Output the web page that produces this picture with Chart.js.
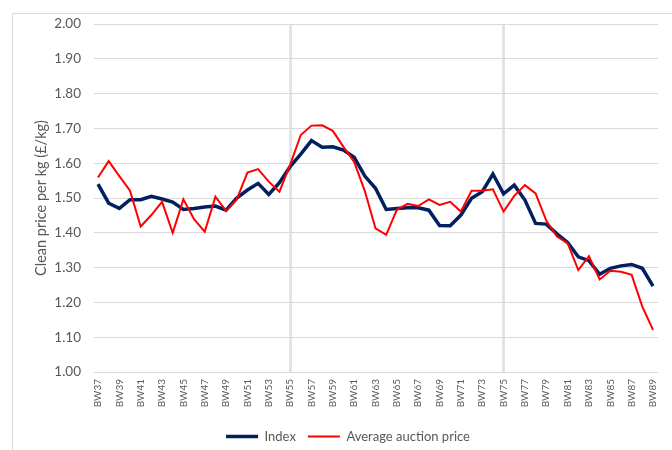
<!DOCTYPE html>
<html>
<head>
<meta charset="utf-8">
<script src="https://cdn.jsdelivr.net/npm/chart.js@4"></script>
<style>
    body { margin: 0; background: #fff; }
    #frame { position: absolute; left: 12px; top: 13px; width: 700px; height: 460px; border: 1px solid #d9d9d9; }
    #wrap { position: absolute; left: 0; top: 0; width: 672px; height: 450px; }
</style>
</head>
<body>
<div id="frame"></div>
<div id="wrap"><canvas id="priceChart" width="672" height="450"></canvas></div>
<script>
const weeks = ['BW37', 'BW38', 'BW39', 'BW40', 'BW41', 'BW42', 'BW43', 'BW44', 'BW45', 'BW46',
    'BW47', 'BW48', 'BW49', 'BW50', 'BW51', 'BW52', 'BW53', 'BW54', 'BW55', 'BW56',
    'BW57', 'BW58', 'BW59', 'BW60', 'BW61', 'BW62', 'BW63', 'BW64', 'BW65', 'BW66',
    'BW67', 'BW68', 'BW69', 'BW70', 'BW71', 'BW72', 'BW73', 'BW74', 'BW75', 'BW76',
    'BW77', 'BW78', 'BW79', 'BW80', 'BW81', 'BW82', 'BW83', 'BW84', 'BW85', 'BW86',
    'BW87', 'BW88', 'BW89'];

const indexValues = [1.54, 1.485, 1.47, 1.495, 1.495, 1.505, 1.497, 1.488, 1.467, 1.47,
    1.474, 1.477, 1.465, 1.50, 1.523, 1.542, 1.51, 1.544, 1.59, 1.626,
    1.665, 1.646, 1.647, 1.638, 1.617, 1.563, 1.528, 1.467, 1.47, 1.472,
    1.472, 1.465, 1.421, 1.42, 1.451, 1.499, 1.518, 1.569, 1.512, 1.537,
    1.494, 1.427, 1.425, 1.397, 1.372, 1.331, 1.32, 1.281, 1.298, 1.305,
    1.309, 1.298, 1.247];

const auctionValues = [1.559, 1.606, 1.563, 1.521, 1.418, 1.451, 1.489, 1.40, 1.496, 1.439,
    1.403, 1.504, 1.463, 1.496, 1.573, 1.583, 1.547, 1.518, 1.595, 1.681,
    1.708, 1.709, 1.693, 1.647, 1.604, 1.52, 1.413, 1.394, 1.466, 1.483,
    1.477, 1.496, 1.48, 1.489, 1.461, 1.521, 1.521, 1.525, 1.461, 1.506,
    1.537, 1.513, 1.435, 1.389, 1.37, 1.293, 1.333, 1.266, 1.291, 1.288,
    1.279, 1.188, 1.121];

// weeks where the season divider is drawn
const dividerWeeks = ['BW55', 'BW75'];

const textGrey = '#595959';
const gridGrey = '#d9d9d9';
const fontName = 'Lato, "Liberation Sans", sans-serif';

// nudge the legend a bit right, like the original
const legendShift = {
    id: 'legendShift',
    afterLayout(chart) {
        chart.legend.left += 11;
        chart.legend.right += 11;
    }
};

const ctx = document.getElementById('priceChart').getContext('2d');
new Chart(ctx, {
    type: 'line',
    data: {
        labels: weeks,
        datasets: [{
            label: 'Index',
            data: indexValues,
            borderColor: '#002060',
            backgroundColor: '#002060',
            borderWidth: 3.5,
            pointRadius: 0,
            tension: 0,
            order: 1
        }, {
            label: 'Average auction price',
            data: auctionValues,
            borderColor: '#ff0000',
            backgroundColor: '#ff0000',
            borderWidth: 2,
            pointRadius: 0,
            tension: 0,
            order: 0
        }]
    },
    plugins: [legendShift],
    options: {
        responsive: false,
        animation: false,
        layout: { padding: { left: 12, right: 10, top: 24, bottom: -3 } },
        plugins: {
            tooltip: { enabled: false },
            legend: {
                position: 'bottom',
                labels: {
                    usePointStyle: true,
                    pointStyle: 'line',
                    pointStyleWidth: 32,
                    padding: 12,
                    color: textGrey,
                    font: { family: fontName, size: 13 },
                    sort: (a, b) => a.datasetIndex - b.datasetIndex
                }
            }
        },
        scales: {
            x: {
                grid: {
                    drawTicks: false,
                    color: (c) => dividerWeeks.includes(weeks[c.index]) ? '#e3e3e3' : 'rgba(0,0,0,0)',
                    lineWidth: (c) => dividerWeeks.includes(weeks[c.index]) ? 3 : 1
                },
                border: { display: true, color: gridGrey, width: 1 },
                ticks: {
                    autoSkip: false,
                    minRotation: 90,
                    maxRotation: 90,
                    padding: 7,
                    color: textGrey,
                    font: { family: fontName, size: 10 },
                    callback: (v, i) => i % 2 === 0 ? weeks[i] : ''
                },
                afterFit: (scale) => { scale.height = 46; }
            },
            y: {
                min: 1,
                max: 2,
                grid: { drawTicks: true, tickLength: 4, color: gridGrey },
                border: { display: false },
                ticks: {
                    stepSize: 0.1,
                    padding: 13,
                    color: textGrey,
                    font: { family: fontName, size: 13.5 },
                    callback: (v) => v.toFixed(2)
                },
                title: {
                    display: true,
                    text: 'Clean price per kg (£/kg)',
                    color: textGrey,
                    padding: { top: 21, bottom: 0 },
                    font: { family: fontName, size: 14.5 }
                },
                afterFit: (scale) => { scale.width = 86; }
            },
            yRight: {
                position: 'right',
                min: 1,
                max: 2,
                grid: { drawOnChartArea: false, drawTicks: true, tickLength: 5, color: gridGrey },
                border: { display: false },
                ticks: { stepSize: 0.1, display: false },
                afterFit: (scale) => { scale.width = 5; }
            }
        }
    }
});
</script>
</body>
</html>
